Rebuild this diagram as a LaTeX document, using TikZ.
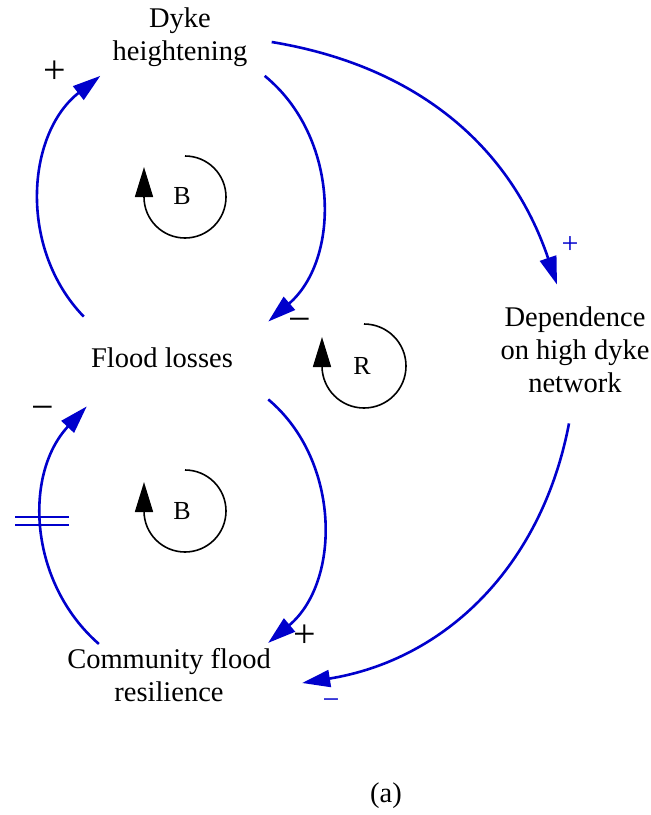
\documentclass[tikz,border=0pt]{standalone}
\usepackage{fontspec}
\setmainfont{Liberation Serif}
\usetikzlibrary{arrows.meta}
\definecolor{linkblue}{RGB}{0,0,204}
\begin{document}
\begin{tikzpicture}[x=0.5pt,y=0.5pt,
  var/.style={align=center,inner sep=0pt,font=\fontsize{14.25}{16.5}\selectfont},
  link/.style={draw=linkblue,line width=1.3pt,-{Triangle[length=14pt,width=8.5pt]}},
  loopsym/.style={draw=black,line width=0.8pt,-{Triangle[length=15pt,width=9pt]}},
  looplbl/.style={inner sep=0pt,font=\fontsize{13}{15}\selectfont},
  sign/.style={inner sep=0pt,font=\fontsize{20}{22}\selectfont},
  bluesign/.style={inner sep=0pt,text=linkblue,font=\fontsize{15}{17}\selectfont}]
\useasboundingbox (0,0) rectangle (651,-815);

% variables
\node[var] (dh) at (180,-37) {Dyke\\heightening};
\node[var] (fl) at (162,-358) {Flood losses};
\node[var] (dep) at (575,-350) {Dependence\\on high dyke\\network};
\node[var] (cfr) at (169,-675) {Community flood\\resilience};

% links
\draw[link] ([xshift=-3.5pt,yshift=15.5pt]fl.north west) to[bend left=48] ([xshift=-6pt,yshift=-4.5pt]dh.south west);
\draw[link] ([xshift=8.5pt,yshift=-4.5pt]dh.south east) to[bend left=50] ([xshift=17.5pt,yshift=13pt]fl.north east);
\draw[link] ([xshift=12pt,yshift=-2.5pt]dh.east) to[bend left=31] ([xshift=-9pt,yshift=11pt]dep.north);
\draw[link] ([xshift=-3pt,yshift=-15pt]dep.south) to[bend left=35] ([xshift=15.5pt,yshift=-4pt]cfr.east);
\draw[link] ([xshift=17.5pt,yshift=-15.5pt]fl.south east) to[bend left=50] ([xshift=-1.5pt,yshift=2.5pt]cfr.north east);
\draw[link] ([xshift=16pt,yshift=2pt]cfr.north west) to[bend left=46] ([xshift=-2pt,yshift=-19pt]fl.south west);

% delay mark
\draw[linkblue,line width=0.9pt] (15,-517) -- (69,-517) (15,-525) -- (69,-525);

% polarities
\node[sign] (s1) at (55,-72) {+};
\node[sign] (s2) at (300,-325) {−};
\node[bluesign] (s3) at (570,-245) {+};
\node[bluesign] (s4) at (331,-704) {−};
\node[sign] (s5) at (305,-636) {+};
\node[sign] (s6) at (43,-413) {−};

% loops
\draw[loopsym] (185,-156) arc[start angle=90,end angle=-180,radius=41] -- ++(0,30);
\node[looplbl] (b1) at (182,-196) {B};
\draw[loopsym] (364,-324) arc[start angle=90,end angle=-180,radius=42] -- ++(0,29);
\node[looplbl] (r1) at (362,-366) {R};
\draw[loopsym] (185,-470) arc[start angle=90,end angle=-180,radius=41] -- ++(0,29);
\node[looplbl] (b2) at (182,-511) {B};

\node[var] (cap) at (386,-796) {(a)};
\end{tikzpicture}
\end{document}
